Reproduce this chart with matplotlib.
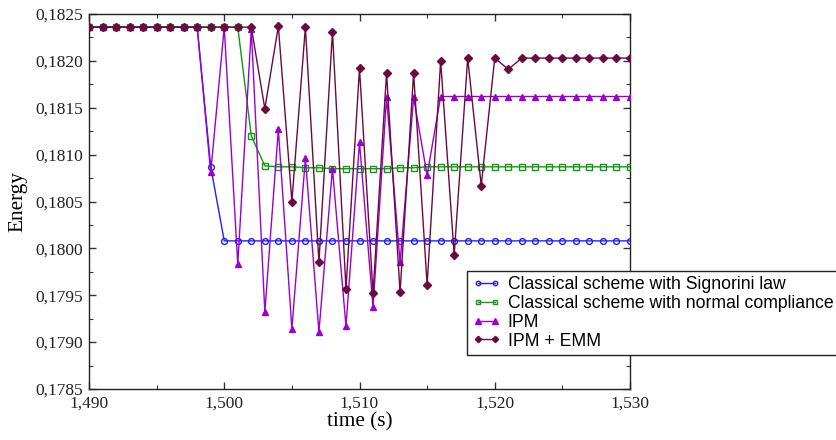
import matplotlib
matplotlib.use("Agg")
import matplotlib.pyplot as plt
from matplotlib import ticker

time_s = [1.490, 1.491, 1.492, 1.493, 1.494, 1.495, 1.496, 1.497, 1.498, 1.499,
          1.500, 1.501, 1.502, 1.503, 1.504, 1.505, 1.506, 1.507, 1.508, 1.509,
          1.510, 1.511, 1.512, 1.513, 1.514, 1.515, 1.516, 1.517, 1.518, 1.519,
          1.520, 1.521, 1.522, 1.523, 1.524, 1.525, 1.526, 1.527, 1.528, 1.529,
          1.530]

signorini = [0.18236] * 9 + [0.18087] + [0.18008] * 31

compliance = ([0.18236] * 12 + [0.18120, 0.18088, 0.18087, 0.18087, 0.18086, 0.18086]
              + [0.18085] * 5 + [0.18086] * 2 + [0.18087] * 16)

ipm = ([0.18236] * 9
       + [0.18081, 0.18236, 0.17983, 0.18234, 0.17932, 0.18127, 0.17914, 0.18096,
          0.17911, 0.18085, 0.17917, 0.18113, 0.17937, 0.18161, 0.17985, 0.18161,
          0.18078]
       + [0.18162] * 15)

ipm_emm = ([0.18236] * 13
           + [0.18149, 0.18237, 0.18050, 0.18236, 0.17985, 0.18231, 0.17957, 0.18192,
              0.17952, 0.18187, 0.17953, 0.18187, 0.17961, 0.18200, 0.17993, 0.18203,
              0.18067, 0.18203, 0.18191]
           + [0.18203] * 9)

labels = ["Classical scheme with Signorini law",
          "Classical scheme with normal compliance",
          "IPM",
          "IPM + EMM"]

fig = plt.figure(figsize=(8.36, 4.4), dpi=100)
ax = fig.add_axes([89 / 836, 1 - 389 / 440, 541 / 836, 375 / 440])

ax.plot(time_s, signorini, color="#1f1fff", lw=1.0, marker="o", ms=4.2,
        mfc="none", mec="#1f1fff", mew=1.0, label=labels[0], zorder=3)
ax.plot(time_s, compliance, color="#119911", lw=1.0, marker="s", ms=3.8,
        mfc="none", mec="#119911", mew=1.0, label=labels[1], zorder=3)
ax.plot(time_s, ipm, color="#9a00d0", lw=1.0, marker="^", ms=5,
        mfc="#9a00d0", mec="#9a00d0", label=labels[2], zorder=4)
ax.plot(time_s, ipm_emm, color="#6a0a40", lw=1.0, marker="D", ms=4.3,
        mfc="#6a0a40", mec="#6a0a40", label=labels[3], zorder=5)

ax.set_xlim(1.490, 1.530)
ax.set_ylim(0.1785, 0.1825)

ax.xaxis.set_major_locator(ticker.MultipleLocator(0.010))
ax.xaxis.set_minor_locator(ticker.MultipleLocator(0.005))
ax.yaxis.set_major_locator(ticker.MultipleLocator(0.0005))
ax.yaxis.set_minor_locator(ticker.MultipleLocator(0.00025))
ax.xaxis.set_major_formatter(ticker.FuncFormatter(lambda v, p: f"{v:.3f}".replace(".", ",")))
ax.yaxis.set_major_formatter(ticker.FuncFormatter(lambda v, p: f"{v:.4f}".replace(".", ",")))

serif = ["Liberation Serif", "DejaVu Serif"]
ax.tick_params(which="both", direction="in", top=True, right=True, color="#333333")
ax.tick_params(which="major", length=5, width=1.0, pad=4)
ax.tick_params(axis="x", which="major", pad=5)
ax.tick_params(which="minor", length=3, width=0.8)
for lbl in ax.get_xticklabels() + ax.get_yticklabels():
    lbl.set_fontfamily(serif)
    lbl.set_fontsize(12.5)
    lbl.set_color("#222222")

ax.set_xlabel("time (s)", fontfamily=serif, fontsize=15.3, labelpad=0)
ax.set_ylabel("Energy", fontfamily=serif, fontsize=15.3, labelpad=6)

for s in ax.spines.values():
    s.set_linewidth(1.0)
    s.set_color("#222222")

leg = fig.legend(loc="upper left", bbox_to_anchor=(467 / 836, 1 - 271 / 440),
                 prop={"family": ["Liberation Sans", "DejaVu Sans"], "size": 12.7},
                 frameon=True, fancybox=False, edgecolor="#222222", framealpha=1,
                 handlelength=1.6, handletextpad=0.4, labelspacing=0.1,
                 borderpad=0.3, borderaxespad=0, markerscale=0.75, numpoints=2)
leg.get_frame().set_linewidth(1.0)
leg.set_zorder(10)

fig.savefig("out.png", dpi=100)
